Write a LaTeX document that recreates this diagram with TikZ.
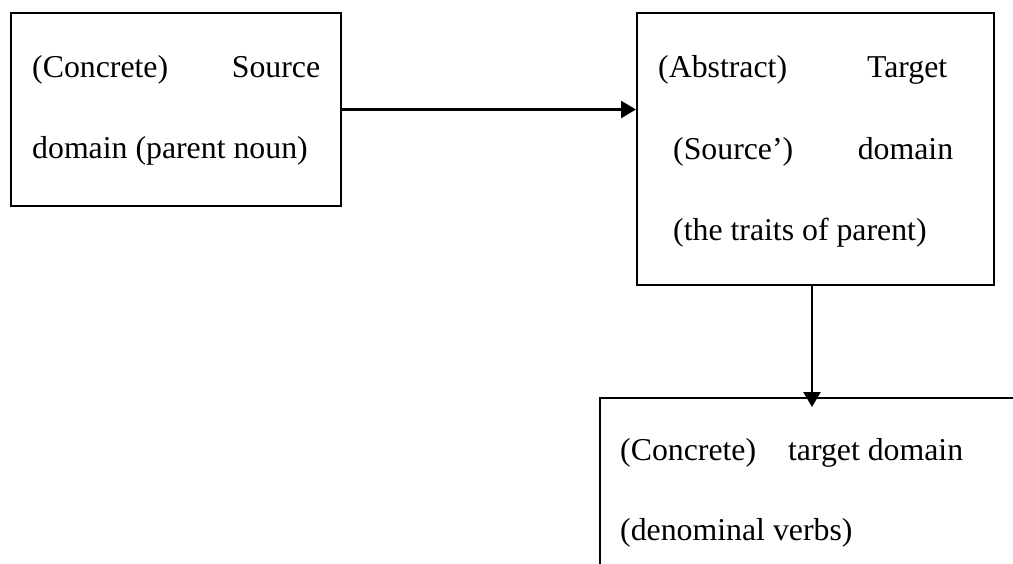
\documentclass[tikz,border=0pt]{standalone}
\usepackage{fontspec}
\setmainfont{Liberation Serif}
\usetikzlibrary{arrows.meta,calc}
\begin{document}
\begin{tikzpicture}[x=1pt,y=-1pt,
  domainbox/.style={draw, line width=2pt, rectangle, inner sep=0pt},
  textline/.style={anchor=base west, inner sep=0pt, font=\fontsize{31.8}{38}\selectfont},
  link/.style={line width=2.5pt, -{Triangle[length=15pt,width=17pt]}}]
\useasboundingbox (0,0) rectangle (1013,563);
\clip (0,0) rectangle (1013,563);

% boxes
\node[domainbox, minimum width=330pt, minimum height=193pt] (box1) at (176,109.5) {};
\node[domainbox, minimum width=357pt, minimum height=272pt] (box2) at (815.5,149) {};
\node[domainbox, anchor=north west, minimum width=520pt, minimum height=260pt] (box3) at (599,397) {};

% text of the source domain
\node[textline] (s1) at (32,77) {\hbox to 288pt{(Concrete)\hfill Source}};
\node[textline] (s2) at (32,158) {domain (parent noun)};

% text of the abstract domain
\node[textline] (t1) at (658,77) {\hbox to 289pt{(Abstract)\hfill Target}};
\node[textline] (t2) at (673,159) {\hbox to 280pt{(Source’)\hfill domain}};
\node[textline] (t3) at (673,240) {(the traits of parent)};

% text of the concrete target domain
\node[textline] (c1) at (620,460) {\hbox to 343pt{(Concrete)\hfill target domain}};
\node[textline] (c2) at (620,540) {(denominal verbs)};

% connectors
\draw[link] (box1.east) -- (box1.east -| box2.west);
\coordinate (drop) at ([xshift=-3.5pt]box2.south);
\draw[link] (drop) -- ([yshift=-10pt]drop |- box3.north);
\end{tikzpicture}
\end{document}
